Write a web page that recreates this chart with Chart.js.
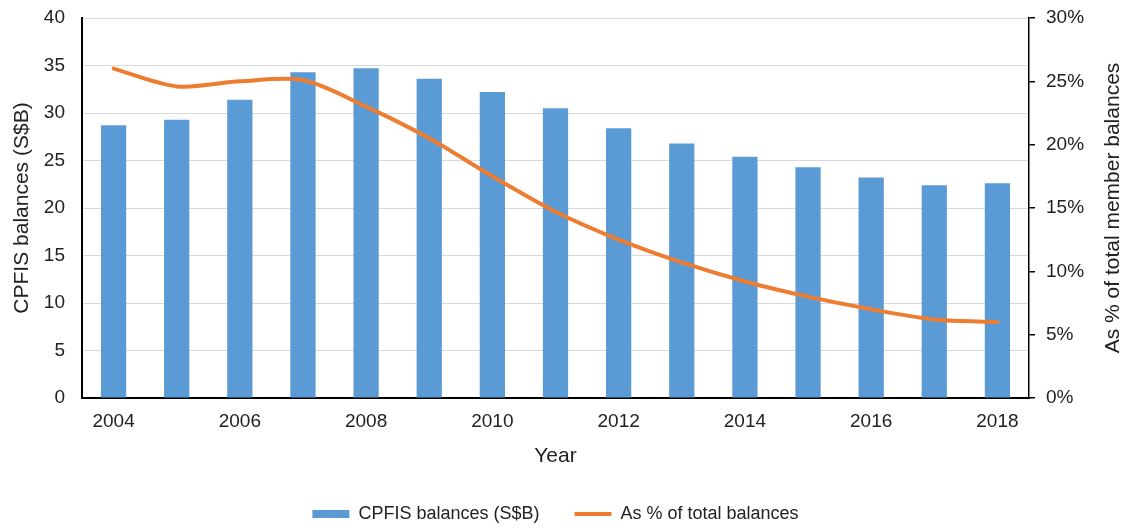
<!DOCTYPE html>
<html>
<head>
<meta charset="utf-8">
<script src="https://cdn.jsdelivr.net/npm/chart.js@4"></script>
<style>
  body { margin: 0; background: #fff; }
  #wrap { width: 1123px; height: 528px; }
</style>
</head>
<body>
<div id="wrap"><canvas id="chart" width="1123" height="528"></canvas></div>
<script>
// data
const years = ['2004','2005','2006','2007','2008','2009','2010','2011','2012','2013','2014','2015','2016','2017','2018'];
const balances = [28.7, 29.3, 31.4, 34.3, 34.7, 33.6, 32.2, 30.5, 28.4, 26.8, 25.4, 24.3, 23.2, 22.4, 22.6];
const pctOfTotal = [26.0, 24.6, 25.0, 25.1, 23.0, 20.5, 17.5, 14.7, 12.5, 10.7, 9.2, 8.0, 7.0, 6.2, 6.0];
const rightTitle = 'As % of total member balances';

const textColor = '#222';
const fontFamily = '"Liberation Sans", Arial, sans-serif';

// right axis title reads bottom-to-top in the original, chart.js rotates it the other way
const rightTitlePlugin = {
  id: 'rightTitle',
  afterDraw(chart) {
    const s = chart.scales.y1;
    const c = chart.ctx;
    c.save();
    c.translate(s.right - 10, (chart.chartArea.top + chart.chartArea.bottom) / 2);
    c.rotate(-Math.PI / 2);
    c.textAlign = 'center';
    c.textBaseline = 'middle';
    c.fillStyle = textColor;
    c.font = '21px ' + fontFamily;
    c.fillText(rightTitle, 0, 0);
    c.restore();
  }
};

function fixVertical(width) {
  return function(scale) {
    scale.width = width;
    scale.paddingTop = 0;
    scale.paddingBottom = 0;
  };
}

let ctx = document.getElementById('chart');
let chart = new Chart(ctx, {
  type: 'bar',
  data: {
    labels: years,
    datasets: [{
      type: 'bar',
      label: 'CPFIS balances (S$B)',
      data: balances,
      backgroundColor: '#5B9BD5',
      yAxisID: 'y',
      barPercentage: 0.4,
      categoryPercentage: 1,
      pointStyle: 'rect',
      order: 1
    }, {
      type: 'line',
      label: 'As % of total balances',
      data: pctOfTotal,
      borderColor: '#ED7D31',
      backgroundColor: '#ED7D31',
      borderWidth: 4,
      borderCapStyle: 'round',
      tension: 0.3,
      pointRadius: 0,
      pointStyle: 'line',
      fill: false,
      yAxisID: 'y1',
      order: 0
    }]
  },
  plugins: [rightTitlePlugin],
  options: {
    responsive: false,
    animation: false,
    layout: { padding: { top: 18, left: 0, right: 0, bottom: -5 } },
    plugins: {
      tooltip: { enabled: false },
      legend: {
        position: 'bottom',
        fullSize: false,
        labels: {
          usePointStyle: true,
          pointStyleWidth: 37,
          boxHeight: 8,
          padding: 35,
          color: textColor,
          font: { family: fontFamily, size: 18 },
          sort: (a, b) => a.datasetIndex - b.datasetIndex
        }
      }
    },
    scales: {
      x: {
        offset: true,
        grid: { display: false, drawTicks: false },
        border: { color: '#000', width: 2 },
        ticks: {
          autoSkip: false,
          maxRotation: 0,
          padding: 12,
          color: textColor,
          font: { family: fontFamily, size: 19 },
          callback: function(v, i) { return i % 2 === 0 ? this.getLabelForValue(v) : ''; }
        },
        title: {
          display: true, text: 'Year', color: textColor,
          font: { family: fontFamily, size: 21 },
          padding: { top: 0, bottom: 1 }
        },
        afterFit: function(scale) { scale.height = 72; }
      },
      y: {
        position: 'left',
        min: 0, max: 40,
        ticks: { stepSize: 5, padding: 17, color: textColor, font: { family: fontFamily, size: 19 } },
        grid: { color: '#d9d9d9', lineWidth: 1, drawTicks: false },
        border: { color: '#000', width: 2 },
        title: {
          display: true, text: 'CPFIS balances (S$B)', color: textColor,
          font: { family: fontFamily, size: 21 },
          padding: { top: 10, bottom: 0 }
        },
        afterFit: fixVertical(82)
      },
      y1: {
        position: 'right',
        min: 0, max: 30,
        ticks: {
          stepSize: 5, padding: 11, color: textColor,
          font: { family: fontFamily, size: 19 },
          callback: v => v + '%'
        },
        grid: { drawOnChartArea: false, drawTicks: true, tickLength: 6, color: '#000', lineWidth: 1.5 },
        border: { color: '#000', width: 1.5 },
        afterFit: fixVertical(94)
      }
    }
  }
});
</script>
</body>
</html>
